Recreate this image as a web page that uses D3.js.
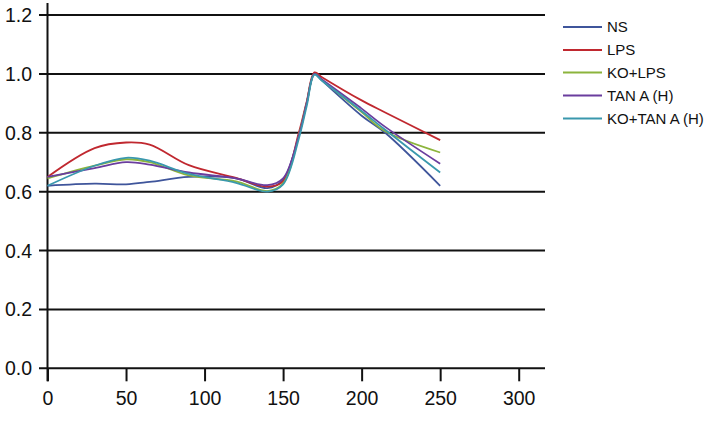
<!DOCTYPE html>
<html>
<head>
<meta charset="utf-8">
<script src="https://cdn.jsdelivr.net/npm/d3@7"></script>
<style>
  html, body { margin: 0; padding: 0; background: #fff; }
  svg { display: block; font-family: "Liberation Sans", Arial, sans-serif; }
</style>
</head>
<body>
<svg id="chart" width="709" height="444"></svg>
<script>
// ---- data ----
const xValues = [0, 30, 50, 65, 90, 120, 140, 150, 160, 165, 170, 175, 200, 215, 250];
const seriesNames = ["NS", "LPS", "KO+LPS", "TAN A (H)", "KO+TAN A (H)"];
const nsValues     = [0.620, 0.627, 0.625, 0.633, 0.650, 0.645, 0.612, 0.640, 0.790, 0.900, 1.000, 0.976, 0.858, 0.800, 0.620];
const lpsValues    = [0.650, 0.748, 0.767, 0.760, 0.690, 0.647, 0.617, 0.635, 0.800, 0.905, 1.005, 0.988, 0.910, 0.869, 0.775];
const koLpsValues  = [0.645, 0.688, 0.710, 0.700, 0.655, 0.635, 0.602, 0.628, 0.790, 0.900, 1.000, 0.978, 0.870, 0.805, 0.733];
const tanValues    = [0.650, 0.680, 0.700, 0.692, 0.665, 0.645, 0.622, 0.645, 0.790, 0.900, 1.000, 0.980, 0.882, 0.820, 0.695];
const koTanValues  = [0.620, 0.688, 0.715, 0.705, 0.660, 0.630, 0.600, 0.625, 0.780, 0.890, 0.997, 0.976, 0.874, 0.810, 0.665];
const seriesColors = ["#3f559b", "#c0282f", "#8cb43c", "#6a3d9e", "#3a98ad"];
const xTicks = [0, 50, 100, 150, 200, 250, 300];
const yTicks = [0.0, 0.2, 0.4, 0.6, 0.8, 1.0, 1.2];

const allSeries = [nsValues, lpsValues, koLpsValues, tanValues, koTanValues];

// ---- layout ----
const svg = d3.select("#chart");
const x = d3.scaleLinear().domain([0, 300]).range([47.5, 518.7]);
const y = d3.scaleLinear().domain([0, 1.2]).range([368.3, 15]);
const plotRight = 545;

// horizontal gridlines (including the 0 line)
svg.append("g").selectAll("line").data(yTicks).join("line")
  .attr("x1", 39).attr("x2", plotRight)
  .attr("y1", d => y(d)).attr("y2", d => y(d))
  .attr("stroke", "#111").attr("stroke-width", 2);

// y axis line
svg.append("line")
  .attr("x1", x(0)).attr("x2", x(0)).attr("y1", 3).attr("y2", y(0) + 13)
  .attr("stroke", "#111").attr("stroke-width", 2);

// y tick labels
svg.append("g").selectAll("text").data(yTicks).join("text")
  .attr("x", 32).attr("y", d => y(d)).attr("dy", "0.36em")
  .attr("text-anchor", "end").attr("font-size", 19.5).attr("fill", "#111")
  .text(d => d3.format(".1f")(d));

// x axis ticks
const xAxis = d3.axisBottom(x).tickValues(xTicks).tickSize(13).tickPadding(10).tickFormat(d3.format("d"));
const gx = svg.append("g").attr("transform", `translate(0,${y(0)})`).call(xAxis);
gx.select(".domain").remove();
gx.selectAll(".tick line").attr("stroke", "#111").attr("stroke-width", 2);
gx.selectAll(".tick text").attr("font-size", 19.5).attr("fill", "#111")
  .attr("font-family", "'Liberation Sans', Arial, sans-serif");

// series lines
const line = d3.line()
  .x((d, i) => x(xValues[i]))
  .y(d => y(d))
  .curve(d3.curveCatmullRom.alpha(0.5));

svg.append("g").selectAll("path").data(allSeries).join("path")
  .attr("d", d => line(d))
  .attr("fill", "none")
  .attr("stroke", (d, i) => seriesColors[i])
  .attr("stroke-width", 1.8)
  .attr("stroke-linejoin", "round");

// legend
const lg = svg.append("g");
const legendY = [27, 50, 72.5, 95.5, 118.5];
seriesNames.forEach((name, i) => {
  lg.append("line")
    .attr("x1", 563).attr("x2", 602)
    .attr("y1", legendY[i]).attr("y2", legendY[i])
    .attr("stroke", seriesColors[i]).attr("stroke-width", 2);
  lg.append("text")
    .attr("x", 607).attr("y", legendY[i]).attr("dy", "0.36em")
    .attr("font-size", 15).attr("fill", "#111")
    .text(name);
});
</script>
</body>
</html>
